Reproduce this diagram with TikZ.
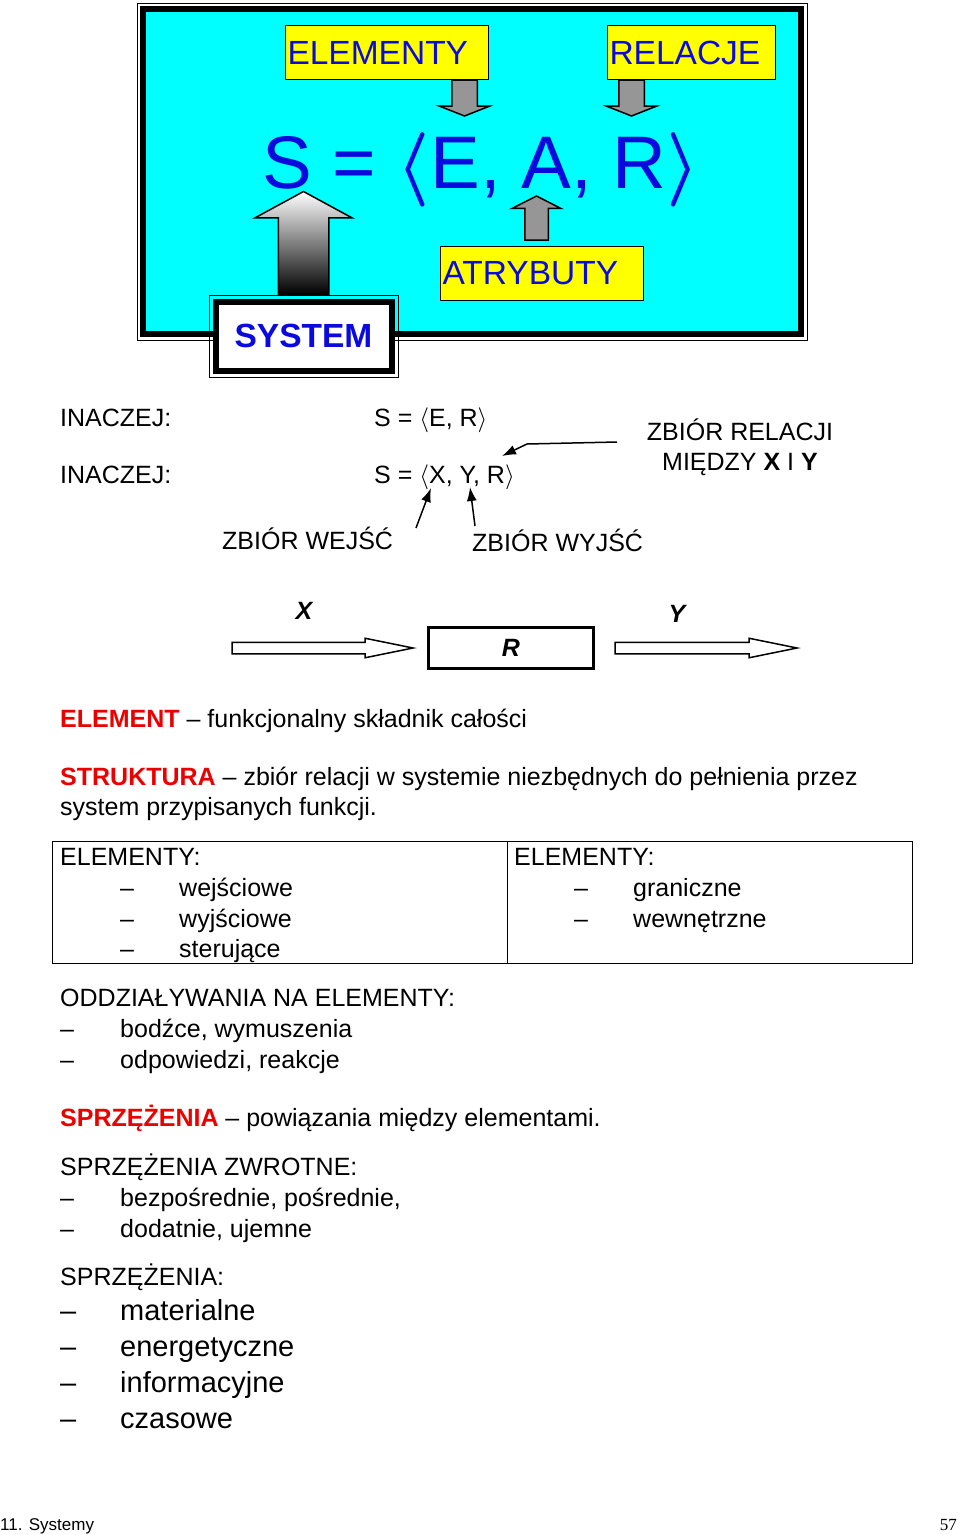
\RequirePackage{fix-cm}
\documentclass[tikz,border=0pt]{standalone}
\usepackage{fontspec}
\setmainfont{Liberation Sans}
\newfontfamily\serifnum{Liberation Serif}
\usetikzlibrary{positioning, shapes.arrows, arrows.meta}

\definecolor{txtblue}{RGB}{10,10,220}
\definecolor{txtred}{RGB}{235,0,0}
\definecolor{arrgray}{RGB}{150,150,150}
\definecolor{bgcyan}{RGB}{0,255,255}
\definecolor{bgyellow}{RGB}{255,255,0}

\tikzset{
  txt/.style={anchor=base west, inner sep=0pt, font=\fontsize{25}{30}\selectfont},
  bigtxt/.style={anchor=base west, inner sep=0pt, font=\fontsize{29}{36}\selectfont},
  lbl/.style={draw, line width=1pt, fill=bgyellow, anchor=north west, minimum height=54pt, inner xsep=2pt, align=left, text=txtblue, font=\fontsize{33.5}{40}\selectfont},
  grayarr/.style={single arrow, draw, line width=1.5pt, fill=arrgray, inner xsep=0pt, minimum width=0pt, outer sep=0pt, anchor=tail},
  openarr/.style={single arrow, draw, line width=1.5pt, fill=white, inner xsep=0pt, inner ysep=5pt, minimum width=0pt, outer sep=0pt, single arrow head extend=4pt, single arrow tip angle=23},
  ptr/.style={line width=1.5pt, -{Latex[length=14pt, width=10pt]}}
}

\begin{document}
\begin{tikzpicture}[x=1pt, y=-1pt]
\useasboundingbox (0,0) rectangle (960,1535);

% the blue frame
\node[draw, line width=1pt, minimum width=670pt, minimum height=337pt] (outer) at (472,171.5) {};
\node[draw, line width=6pt, fill=bgcyan, minimum width=658pt, minimum height=325pt] (frame) at (472,171.5) {};

\node[lbl, text width=199pt] (elem) at (285,25) {ELEMENTY};
\node[lbl, text width=164pt] (rel) at (607,25) {RELACJE};
\node[lbl, text width=199pt] (atr) at (440,246) {ATRYBUTY};
\node[font=\fontsize{74.5}{80}\selectfont, text=txtblue, anchor=base, inner sep=0pt] (form) at (481,188) {S = {\mathversion{bold}$\langle$}E, A, R{\mathversion{bold}$\rangle$}};

\node[grayarr, rotate=-90, inner ysep=12pt, single arrow head extend=12.5pt, single arrow tip angle=137, minimum height=36pt] (aE) at ([xshift=77.5pt]elem.south) {};
\node[grayarr, rotate=-90, inner ysep=12pt, single arrow head extend=12.5pt, single arrow tip angle=137, minimum height=36pt] (aR) at ([xshift=-60pt]rel.south) {};
\node[grayarr, rotate=90, inner ysep=11pt, single arrow head extend=12.5pt, single arrow tip angle=126, minimum height=44pt] (aA) at ([xshift=-5.5pt, yshift=6pt]atr.north) {};

\node[draw, line width=1pt, minimum width=189pt, minimum height=82pt] (sysout) at (303.5,336) {};
\node[grayarr, rotate=90, top color=white, bottom color=black, inner ysep=24.5pt, single arrow head extend=23.5pt, single arrow tip angle=123, minimum height=103pt] (aS) at (sysout.north) {};
\node[draw, line width=6pt, fill=white, minimum width=176pt, minimum height=69pt, text=txtblue, font=\fontsize{33.5}{40}\selectfont\bfseries] (sys) at (303.5,336) {SYSTEM};

% otherwise
\node[txt] (in1) at (60,426) {INACZEJ:};
\node[txt] (s1) at (374,426) {S = $\langle$E, R$\rangle$};
\node[txt] (in2) at (60,483) {INACZEJ:};
\node[txt] (s2) at (374,483) {S = $\langle$X, Y, R$\rangle$};
\node[txt, anchor=base] (rel1) at (740,440) {ZBIÓR RELACJI};
\node[txt, anchor=base] (rel2) at (740,470) {MIĘDZY \textbf{X} I \textbf{Y}};
\node[txt] (wej) at (222,549) {ZBIÓR WEJŚĆ};
\node[txt] (wyj) at (472,551) {ZBIÓR WYJŚĆ};

\coordinate (r0) at (617,442);
\coordinate (r1) at (527,444);
\coordinate (r2) at (502,456);
\coordinate (x0) at (416,528);
\coordinate (x1) at (431,488);
\coordinate (y0) at (475,526);
\coordinate (y1) at (470,487);
\draw[ptr] (r0) -- (r1) -- (r2);
\draw[ptr] (x0) -- (x1);
\draw[ptr] (y0) -- (y1);

% X -> R -> Y
\node[txt, anchor=base, font=\fontsize{25}{30}\selectfont\bfseries\itshape] (X) at (304,619) {X};
\node[txt, anchor=base, font=\fontsize{25}{30}\selectfont\bfseries\itshape] (Y) at (677,622) {Y};
\node[draw, line width=3pt, minimum width=165pt, minimum height=41pt, font=\fontsize{25}{30}\selectfont\bfseries\itshape] (R) at (511,648) {R};
\node[openarr, anchor=tip, minimum height=181pt] (ax) at ([xshift=-14pt]R.west) {};
\node[openarr, anchor=tail, minimum height=182pt] (ay) at ([xshift=20pt]R.east) {};

% definitions
\node[txt] (d1) at (60,727) {\textcolor{txtred}{\textbf{ELEMENT}} – funkcjonalny składnik całości};
\node[txt] (d2) at (60,785) {\textcolor{txtred}{\textbf{STRUKTURA}} – zbiór relacji w systemie niezbędnych do pełnienia przez};
\node[txt] (d3) at (60,815) {system przypisanych funkcji.};

\node[draw, line width=1.2pt, anchor=north west, minimum width=455pt, minimum height=122pt] (cellL) at (52,841) {};
\node[draw, line width=1.2pt, anchor=north west, minimum width=405pt, minimum height=122pt] (cellR) at (507,841) {};
\node[txt] (eL) at (60,865) {ELEMENTY:};
\node[txt] (eL1) at (120,896) {–};
\node[txt] (eL1t) at (179,896) {wejściowe};
\node[txt] (eL2) at (120,927) {–};
\node[txt] (eL2t) at (179,927) {wyjściowe};
\node[txt] (eL3) at (120,957) {–};
\node[txt] (eL3t) at (179,957) {sterujące};
\node[txt] (eR) at (514,865) {ELEMENTY:};
\node[txt] (eR1) at (574,896) {–};
\node[txt] (eR1t) at (633,896) {graniczne};
\node[txt] (eR2) at (574,927) {–};
\node[txt] (eR2t) at (633,927) {wewnętrzne};

\node[txt] (o0) at (60,1006) {ODDZIAŁYWANIA NA ELEMENTY:};
\node[txt] (o1) at (60,1037) {–};
\node[txt] (o1t) at (120,1037) {bodźce, wymuszenia};
\node[txt] (o2) at (60,1068) {–};
\node[txt] (o2t) at (120,1068) {odpowiedzi, reakcje};

\node[txt] (p0) at (60,1126) {\textcolor{txtred}{\textbf{SPRZĘŻENIA}} – powiązania między elementami.};

\node[txt] (z0) at (60,1175) {SPRZĘŻENIA ZWROTNE:};
\node[txt] (z1) at (60,1206) {–};
\node[txt] (z1t) at (120,1206) {bezpośrednie, pośrednie,};
\node[txt] (z2) at (60,1237) {–};
\node[txt] (z2t) at (120,1237) {dodatnie, ujemne};

\node[txt] (k0) at (60,1285) {SPRZĘŻENIA:};
\node[bigtxt] (k1) at (60,1320) {–};
\node[bigtxt] (k1t) at (120,1320) {materialne};
\node[bigtxt] (k2) at (60,1356) {–};
\node[bigtxt] (k2t) at (120,1356) {energetyczne};
\node[bigtxt] (k3) at (60,1392) {–};
\node[bigtxt] (k3t) at (120,1392) {informacyjne};
\node[bigtxt] (k4) at (60,1428) {–};
\node[bigtxt] (k4t) at (120,1428) {czasowe};

% footer
\node[anchor=base west, inner sep=0pt, font=\fontsize{17}{20}\selectfont] (foot) at (0,1530) {11. Systemy};
\node[anchor=base east, inner sep=0pt, font=\fontsize{17}{20}\selectfont\serifnum] (page) at (957,1530) {57};
\end{tikzpicture}
\end{document}
